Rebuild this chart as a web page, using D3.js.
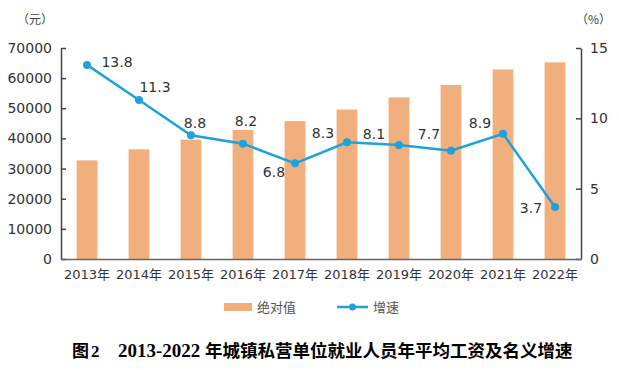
<!DOCTYPE html>
<html><head><meta charset="utf-8">
<script src="https://cdn.jsdelivr.net/npm/d3@7/dist/d3.min.js"></script>
<style>
body{margin:0;background:#fff;}
svg{display:block;font-family:"DejaVu Sans","Noto Sans CJK SC",sans-serif;}
</style></head>
<body><svg id="c" width="619" height="370"></svg>
<script>
const years = ["2013年","2014年","2015年","2016年","2017年","2018年","2019年","2020年","2021年","2022年"];
const wages = [32706,36390,39589,42833,45761,49575,53604,57727,62884,65237];
const growth = [13.8,11.3,8.8,8.2,6.8,8.3,8.1,7.7,8.9,3.7];
const leftTicks = [0,10000,20000,30000,40000,50000,60000,70000];
const rightTicks = [0,5,10,15];
const legendLabels = ["绝对值","增速"];
const titleYears = "2013-2022";
const titleText = "年城镇私营单位就业人员年平均工资及名义增速";

const barColor = "#F2AF7E", lineColor = "#1FA2DC", textColor = "#333";
const svg = d3.select("#c");
const L = 61, R = 581, T = 48, B = 259;

const x = d3.scaleBand().domain(years).range([L, R]).paddingInner(0.6).paddingOuter(0.3);
const yL = d3.scaleLinear().domain([0,70000]).range([B,T]);
const yR = d3.scaleLinear().domain([0,15]).range([B,T]);

// bars
svg.append("g").selectAll("rect").data(wages).join("rect")
  .attr("x",(d,i)=>x(years[i])).attr("width",x.bandwidth())
  .attr("y",d=>yL(d)).attr("height",d=>B-yL(d)).attr("fill",barColor);

// axes
const gl = svg.append("g").attr("transform",`translate(${L},0)`)
  .call(d3.axisLeft(yL).tickValues(leftTicks).tickFormat(d3.format("d")).tickSizeInner(-5).tickSizeOuter(0).tickPadding(9));
const gr = svg.append("g").attr("transform",`translate(${R},0)`)
  .call(d3.axisRight(yR).tickValues(rightTicks).tickSizeInner(-5).tickSizeOuter(0).tickPadding(9));
const gb = svg.append("g").attr("transform",`translate(0,${B})`)
  .call(d3.axisBottom(x).tickSize(0).tickPadding(11));
[gl,gr].forEach(g=>{
  g.selectAll("path,line").attr("stroke","#444").attr("stroke-width",1.5);
  g.selectAll("text").attr("font-size",14).attr("fill",textColor).style("font-family",'"DejaVu Sans",sans-serif');
});
gb.selectAll("path").attr("stroke","#666").attr("stroke-width",1.5);
gb.selectAll("text").attr("font-size",13).attr("fill",textColor).style("font-family",'"DejaVu Sans","Noto Sans CJK SC",sans-serif');

// line
const cx = (i)=>x(years[i])+x.bandwidth()/2;
const line = d3.line().x((d,i)=>cx(i)).y(d=>yR(d));
svg.append("path").datum(growth).attr("d",line).attr("fill","none")
  .attr("stroke",lineColor).attr("stroke-width",2.5);
svg.append("g").selectAll("circle").data(growth).join("circle")
  .attr("cx",(d,i)=>cx(i)).attr("cy",d=>yR(d)).attr("r",4).attr("fill",lineColor);

// value labels (placement offsets relative to each point)
const labelOffsets = [[30,2],[16,-8],[4,-7],[3,-18],[-21,14],[-24,-4],[-25,-6],[-22,-12],[-23,-6],[-24,6]];
svg.append("g").selectAll("text").data(growth).join("text")
  .attr("x",(d,i)=>cx(i)+labelOffsets[i][0]).attr("y",(d,i)=>yR(d)+labelOffsets[i][1])
  .attr("text-anchor","middle").attr("font-size",14).attr("fill",textColor)
  .style("font-family",'"DejaVu Sans",sans-serif')
  .text(d=>d3.format(".1f")(d));

// unit labels
svg.append("text").attr("x",17).attr("y",24).attr("font-size",12).attr("fill","#444")
  .style("font-family",'"Noto Sans CJK SC",sans-serif').text("（元）");
svg.append("text").attr("x",611).attr("y",24).attr("text-anchor","end").attr("font-size",12).attr("fill","#444")
  .style("font-family",'"Noto Sans CJK SC",sans-serif').text("（%）");

// legend
const lg = svg.append("g");
lg.append("rect").attr("x",224).attr("y",303).attr("width",28).attr("height",8).attr("fill",barColor);
lg.append("text").attr("x",257).attr("y",312).attr("font-size",13).attr("fill","#555")
  .style("font-family",'"Noto Sans CJK SC",sans-serif').text(legendLabels[0]);
lg.append("line").attr("x1",337).attr("x2",368).attr("y1",307).attr("y2",307).attr("stroke",lineColor).attr("stroke-width",2.5);
lg.append("circle").attr("cx",352.5).attr("cy",307).attr("r",3.5).attr("fill",lineColor);
lg.append("text").attr("x",373).attr("y",312).attr("font-size",13).attr("fill","#555")
  .style("font-family",'"Noto Sans CJK SC",sans-serif').text(legendLabels[1]);

// title
const tt = svg.append("text").attr("y",357).attr("font-size",17).attr("font-weight","bold")
  .attr("fill","#000").style("font-family",'"Liberation Serif","Noto Sans CJK SC",serif');
tt.append("tspan").attr("x",72).text("图");
tt.append("tspan").attr("x",91).text("2");
tt.append("tspan").attr("x",118).attr("font-size",19).text(titleYears);
tt.append("tspan").attr("x",205).attr("font-size",17.5).text(titleText);
</script></body></html>
